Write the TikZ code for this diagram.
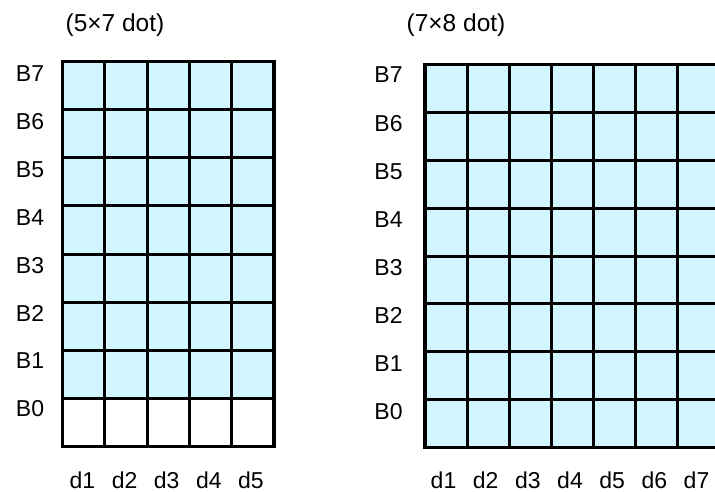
\documentclass[tikz,border=0pt]{standalone}
\usepackage{fontspec}
\setmainfont{Liberation Sans}
\definecolor{cellfill}{RGB}{210,246,255}
\begin{document}
\begin{tikzpicture}[x=1pt,y=-1pt,
  lbl/.style={font=\fontsize{23}{23}\selectfont, inner sep=0pt, anchor=base},
  ttl/.style={font=\fontsize{24.5}{24.5}\selectfont, inner sep=0pt, anchor=base},
  gridline/.style={line width=3pt},
  border/.style={line width=3.6pt}]
\useasboundingbox (0,0) rectangle (715,492);
\clip (0,0) rectangle (715,492);
% ---------- left grid (5x7) ----------
\fill[cellfill] (62.5,61.5) rectangle (274,398.4);
\foreach \i in {1,...,4}
  \draw[gridline] ({62.5+42.3*\i},61.5) -- ({62.5+42.3*\i},446.5);
\foreach \j in {1,...,7}
  \draw[gridline] (62.5,{61.5+48.125*\j}) -- (274,{61.5+48.125*\j});
\draw[border] (62.5,61.5) rectangle (274,446.5);
\node[ttl] (t1) at (115,31.5) {(5×7 dot)};
\foreach \k [evaluate=\k as \yy using {81.5+47.9*(7-\k)}] in {0,...,7}
  \node[lbl] (lb\k) at (30,\yy) {B\k};
\foreach \k [evaluate=\k as \xx using {82.5+42.1*(\k-1)}] in {1,...,5}
  \node[lbl] (ld\k) at (\xx,488.5) {d\k};
% ---------- right grid (7x8) ----------
\fill[cellfill] (425,64.5) rectangle (719.7,447.5);
\foreach \i in {1,...,6}
  \draw[gridline] ({425+42.1*\i},64.5) -- ({425+42.1*\i},447.5);
\foreach \j in {1,...,7}
  \draw[gridline] (425,{64.5+47.875*\j}) -- (719.7,{64.5+47.875*\j});
\draw[border] (425,64.5) rectangle (719.7,447.5);
\node[ttl] (t2) at (456,31.5) {(7×8 dot)};
\foreach \k [evaluate=\k as \yy using {83+48.1*(7-\k)}] in {0,...,7}
  \node[lbl] (rb\k) at (388.5,\yy) {B\k};
\foreach \k [evaluate=\k as \xx using {443.5+42.17*(\k-1)}] in {1,...,7}
  \node[lbl] (rd\k) at (\xx,488.5) {d\k};
\end{tikzpicture}
\end{document}
